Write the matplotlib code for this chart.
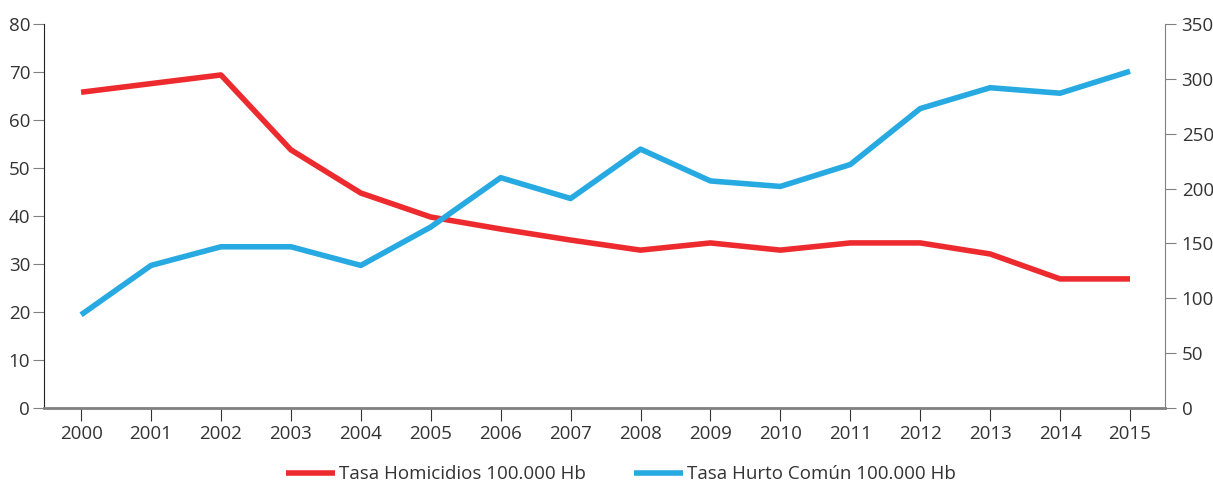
import matplotlib.pyplot as plt

plt.rcParams['font.family'] = ['Open Sans', 'DejaVu Sans']

years = list(range(2000, 2016))
homicidios = [65.8, 67.6, 69.4, 53.8, 44.8, 39.8, 37.3, 35.0, 32.9, 34.4, 32.9, 34.4, 34.4, 32.1, 26.9, 26.9]
hurto = [85, 130, 147, 147, 130, 165, 210, 191, 236, 207, 202, 222, 273, 292, 287, 307]

red = '#ED2B2F'
blue = '#27A9E1'
txt = '#333333'
grey = '#808080'

fig = plt.figure(figsize=(12.13, 4.82), dpi=100)
ax = fig.add_axes([0.0363, 0.1535, 0.9241, 0.7965])
ax2 = ax.twinx()

l1, = ax.plot(years, homicidios, color=red, lw=4, solid_capstyle='butt')
l2, = ax2.plot(years, hurto, color=blue, lw=4, solid_capstyle='butt')

ax.set_xlim(1999.47, 2015.5)
ax.set_ylim(0, 80)
ax2.set_ylim(0, 350)
ax.set_xticks(years)
ax.set_yticks(range(0, 81, 10))
ax2.set_yticks(range(0, 351, 50))

for a in (ax, ax2):
    a.spines['top'].set_visible(False)
ax.spines['right'].set_visible(False)
ax2.spines['left'].set_visible(False)
ax2.spines['bottom'].set_visible(False)
ax.spines['left'].set_color('#222222')
ax.spines['bottom'].set_color(grey)
ax.spines['bottom'].set_linewidth(2)
ax2.spines['right'].set_color(grey)

ax.tick_params(axis='y', length=8, color=grey, labelsize=13.5, labelcolor=txt, pad=2)
ax.tick_params(axis='x', length=9, color='#333333', labelsize=13.5, labelcolor=txt, pad=3)
ax2.tick_params(axis='y', length=8, color=grey, labelsize=13.5, labelcolor=txt, pad=4)

fig.legend([l1, l2], ['Tasa Homicidios 100.000 Hb', 'Tasa Hurto Común 100.000 Hb'],
           loc='lower center', bbox_to_anchor=(0.512, -0.038), ncol=2, frameon=False,
           fontsize=13.5, handlelength=2.6, handletextpad=0.2, columnspacing=2.6,
           labelcolor=txt)

fig.savefig('out.png', dpi=100)
